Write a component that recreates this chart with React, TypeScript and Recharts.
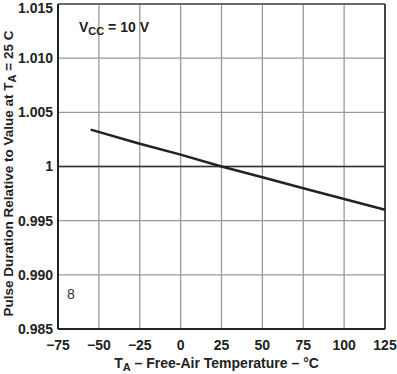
import React from 'react';
import { LineChart, Line, XAxis, YAxis, CartesianGrid, ReferenceLine, Label } from 'recharts';

// temperature (°C) and pulse duration ratio
const temps = [-55, -25, 0, 25, 50, 75, 100, 125];
const ratios = [1.0034, 1.0021, 1.0011, 1.0, 0.999, 0.998, 0.997, 0.996];

const xTicks = [-75, -50, -25, 0, 25, 50, 75, 100, 125];
const yTicks = [0.985, 0.99, 0.995, 1, 1.005, 1.01, 1.015];

const data = temps.map((t, i) => ({ temp: t, ratio: ratios[i] }));

const font = '"Liberation Sans", Arial, sans-serif';
const tickStyle = { fill: '#222', fontSize: 14, fontWeight: 700, fontFamily: font };

const YTitle = (props: any) => {
  const vb = props.viewBox;
  const cy = vb.y + vb.height / 2 + 7;
  return (
    <text
      x={8}
      y={cy}
      transform={`rotate(-90, 8, ${cy})`}
      textAnchor="middle"
      dominantBaseline="central"
      fill="#222"
      fontSize={13.5}
      fontWeight={700}
      fontFamily={font}
    >
      Pulse Duration Relative to Value at T
      <tspan fontSize={11} dy={4}>A</tspan>
      <tspan dy={-4}> = 25 C</tspan>
    </text>
  );
};

const XTitle = (props: any) => {
  const vb = props.viewBox;
  const cx = vb.x + vb.width / 2 - 5;
  return (
    <text x={cx} y={368} textAnchor="middle" fill="#222" fontSize={14} fontWeight={700} fontFamily={font}>
      T<tspan fontSize={11} dy={3}>A</tspan>
      <tspan dy={-3}> – Free-Air Temperature – °C</tspan>
    </text>
  );
};

const App: React.FC = () => {
  return (
    <div style={{ position: 'absolute', left: 0, top: 0, width: 397, height: 374, background: '#fff' }}>
      <LineChart width={397} height={374} data={data} margin={{ top: 4, right: 12, left: 0, bottom: 0 }}>
        <CartesianGrid stroke="#9a9a9a" strokeWidth={1.3} />
        <XAxis
          dataKey="temp"
          type="number"
          domain={[-75, 125]}
          ticks={xTicks}
          height={45}
          tickLine={false}
          tickSize={0}
          tickMargin={11}
          axisLine={{ stroke: '#222', strokeWidth: 2 }}
          tick={tickStyle}
          tickFormatter={(v: number) => String(v).replace('-', '\u2212')}
        >
          <Label content={<XTitle />} />
        </XAxis>
        <YAxis
          type="number"
          domain={[0.985, 1.015]}
          ticks={yTicks}
          width={58}
          tickLine={false}
          tickSize={0}
          tickMargin={5}
          axisLine={{ stroke: '#222', strokeWidth: 2 }}
          tick={tickStyle}
          tickFormatter={(v: number) => (v === 1 ? '1' : v.toFixed(3))}
        >
          <Label content={<YTitle />} />
        </YAxis>
        <ReferenceLine y={1} stroke="#333" strokeWidth={1.3} />
        <ReferenceLine y={1.015} stroke="#555" strokeWidth={1.5} />
        <ReferenceLine x={125} stroke="#444" strokeWidth={2} />
        <ReferenceLine y={1.0125} stroke="none">
          <Label
            content={() => (
              <text x={79} y={32} fill="#222" fontSize={14} fontWeight={700} fontFamily={font}>
                V<tspan fontSize={11} dy={3}>CC</tspan>
                <tspan dy={-3}> = 10 V</tspan>
              </text>
            )}
          />
        </ReferenceLine>
        <ReferenceLine y={0.9885} stroke="none">
          <Label
            content={() => (
              <text x={67} y={299} fill="#333" fontSize={14} fontFamily={font}>
                8
              </text>
            )}
          />
        </ReferenceLine>
        <Line
          type="linear"
          dataKey="ratio"
          stroke="#222"
          strokeWidth={2.5}
          dot={false}
          isAnimationActive={false}
        />
      </LineChart>
    </div>
  );
};

export default App;
